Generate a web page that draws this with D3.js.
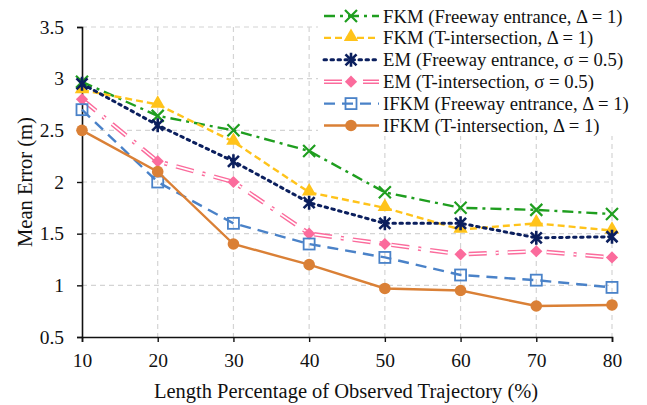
<!DOCTYPE html>
<html>
<head>
<meta charset="utf-8">
<script src="https://cdn.jsdelivr.net/npm/d3@7"></script>
<style>
  body { margin: 0; background: #fff; }
  text { font-family: "Liberation Serif", "Times New Roman", serif; fill: #111; }
</style>
</head>
<body>
<div id="chart"></div>
<script>
// data
var lengths = [10, 20, 30, 40, 50, 60, 70, 80];
var fkmFreeway = [2.97, 2.64, 2.5, 2.3, 1.9, 1.75, 1.73, 1.69];
var fkmTInter = [2.89, 2.75, 2.39, 1.9, 1.75, 1.54, 1.6, 1.53];
var emFreeway = [2.95, 2.55, 2.2, 1.8, 1.6, 1.6, 1.46, 1.47];
var emTInter = [2.8, 2.2, 2.0, 1.5, 1.4, 1.3, 1.33, 1.27];
var ifkmFreeway = [2.7, 2.0, 1.6, 1.4, 1.27, 1.1, 1.05, 0.98];
var ifkmTInter = [2.5, 2.1, 1.4, 1.2, 0.97, 0.95, 0.8, 0.81];
var yTicks = [0.5, 1, 1.5, 2, 2.5, 3, 3.5];

var series = [
  {name: "FKM (Freeway entrance, \u0394 = 1)", values: fkmFreeway, color: "#1f9e1f", dash: "11,5,3,5", marker: "x"},
  {name: "FKM (T-intersection, \u0394 = 1)", values: fkmTInter, color: "#ffc31a", dash: "7,4", marker: "tri"},
  {name: "EM (Freeway entrance, \u03c3 = 0.5)", values: emFreeway, color: "#0b1f5e", dash: "2.5,4.5", marker: "star"},
  {name: "EM (T-intersection, \u03c3 = 0.5)", values: emTInter, color: "#fb6b9c", dash: "18,9,3,9", marker: "diamond", hollow: true},
  {name: "IFKM (Freeway entrance, \u0394 = 1)", values: ifkmFreeway, color: "#4a82c8", dash: "11,7", marker: "square"},
  {name: "IFKM (T-intersection, \u0394 = 1)", values: ifkmTInter, color: "#da8036", dash: null, marker: "circle"}
];

var W = 647, H = 405;
var margin = {top: 27, right: 35, bottom: 68, left: 82};

var svg = d3.select("#chart").append("svg")
    .attr("width", W).attr("height", H);

var x = d3.scaleLinear().domain([10, 80]).range([margin.left, W - margin.right]);
var y = d3.scaleLinear().domain([0.5, 3.5]).range([H - margin.bottom, margin.top]);

// grid
svg.append("g").selectAll("line.h")
  .data(yTicks.slice(1)).enter().append("line")
  .attr("x1", x(10)).attr("x2", x(80))
  .attr("y1", function(d) { return y(d); }).attr("y2", function(d) { return y(d); })
  .attr("stroke", "#d4d4d4").attr("stroke-width", 1.2).attr("stroke-dasharray", "5,4");
svg.append("g").selectAll("line.v")
  .data(lengths.slice(1)).enter().append("line")
  .attr("x1", function(d) { return x(d); }).attr("x2", function(d) { return x(d); })
  .attr("y1", y(3.5)).attr("y2", y(0.5))
  .attr("stroke", "#d4d4d4").attr("stroke-width", 1.2).attr("stroke-dasharray", "5,4");

// axes
var yAxis = svg.append("g")
  .attr("transform", "translate(" + x(10) + ",0)")
  .call(d3.axisLeft(y).tickValues(yTicks).tickFormat(d3.format("")).tickSize(5).tickPadding(13));
var xAxis = svg.append("g")
  .attr("transform", "translate(0," + y(0.5) + ")")
  .call(d3.axisBottom(x).tickValues(lengths).tickSize(5).tickPadding(11));
[xAxis, yAxis].forEach(function(a) {
  a.select(".domain").attr("stroke", "#111").attr("stroke-width", 1.6);
  a.selectAll(".tick line").attr("stroke", "#111").attr("stroke-width", 1.4);
  a.selectAll(".tick text").style("font-size", "19.5px").attr("fill", "#111")
   .style("font-family", "Liberation Serif, serif");
});

svg.append("text")
  .attr("transform", "translate(32," + y(2) + ") rotate(-90)")
  .attr("text-anchor", "middle")
  .style("font-size", "20.5px")
  .text("Mean Error (m)");
svg.append("text")
  .attr("x", 346).attr("y", 398)
  .attr("text-anchor", "middle")
  .style("font-size", "20.5px")
  .text("Length Percentage of Observed Trajectory (%)");

// markers
function drawMarker(g, s, cx, cy) {
  var c = s.color;
  if (s.marker == "x") {
    g.append("path").attr("d", "M" + (cx - 6) + "," + (cy - 6) + "L" + (cx + 6) + "," + (cy + 6) +
        "M" + (cx - 6) + "," + (cy + 6) + "L" + (cx + 6) + "," + (cy - 6))
      .attr("stroke", c).attr("stroke-width", 2.2).attr("fill", "none");
  } else if (s.marker == "tri") {
    g.append("path").attr("d", d3.symbol().type(d3.symbolTriangle).size(90)())
      .attr("transform", "translate(" + cx + "," + (cy - 1) + ")").attr("fill", c);
  } else if (s.marker == "star") {
    g.append("path").attr("d", "M" + (cx - 5.5) + "," + (cy - 5.5) + "L" + (cx + 5.5) + "," + (cy + 5.5) +
        "M" + (cx - 5.5) + "," + (cy + 5.5) + "L" + (cx + 5.5) + "," + (cy - 5.5) +
        "M" + cx + "," + (cy - 7) + "L" + cx + "," + (cy + 7))
      .attr("stroke", c).attr("stroke-width", 2.6).attr("fill", "none");
  } else if (s.marker == "diamond") {
    g.append("path").attr("d", d3.symbol().type(d3.symbolDiamond2).size(95)())
      .attr("transform", "translate(" + cx + "," + cy + ")").attr("fill", c);
  } else if (s.marker == "square") {
    g.append("rect").attr("x", cx - 5.5).attr("y", cy - 5.5).attr("width", 11).attr("height", 11)
      .attr("fill", "none").attr("stroke", c).attr("stroke-width", 1.8);
  } else {
    g.append("circle").attr("cx", cx).attr("cy", cy).attr("r", 5.8).attr("fill", c);
  }
}

function drawLine(g, s, pts) {
  g.append("path").attr("d", d3.line()(pts))
    .attr("fill", "none").attr("stroke", s.color)
    .attr("stroke-width", s.hollow ? 4.5 : (s.marker == "star" ? 3 : 2.4))
    .attr("stroke-linecap", s.marker == "star" ? "round" : "butt")
    .attr("stroke-dasharray", s.dash);
  if (s.hollow) {
    g.append("path").attr("d", d3.line()(pts))
      .attr("fill", "none").attr("stroke", "#fff").attr("stroke-width", 1.6)
      .attr("stroke-dasharray", s.dash);
  }
}

var plot = svg.append("g");
series.forEach(function(s) {
  var g = plot.append("g");
  var pts = lengths.map(function(l, i) { return [x(l), y(s.values[i])]; });
  drawLine(g, s, pts);
  pts.forEach(function(p) { drawMarker(g, s, p[0], p[1]); });
});

// legend with white backing
var lg = svg.append("g");
lg.append("rect").attr("x", 318).attr("y", 2).attr("width", 326).attr("height", 134).attr("fill", "#fff");
series.forEach(function(s, i) {
  var ly = 16 + i * 21.9;
  var g = lg.append("g");
  drawLine(g, s, [[324, ly], [379, ly]]);
  drawMarker(g, s, 351, ly);
  g.append("text").attr("x", 383).attr("y", ly + 6.5)
    .style("font-size", "18.7px").text(s.name);
});
</script>
</body>
</html>
